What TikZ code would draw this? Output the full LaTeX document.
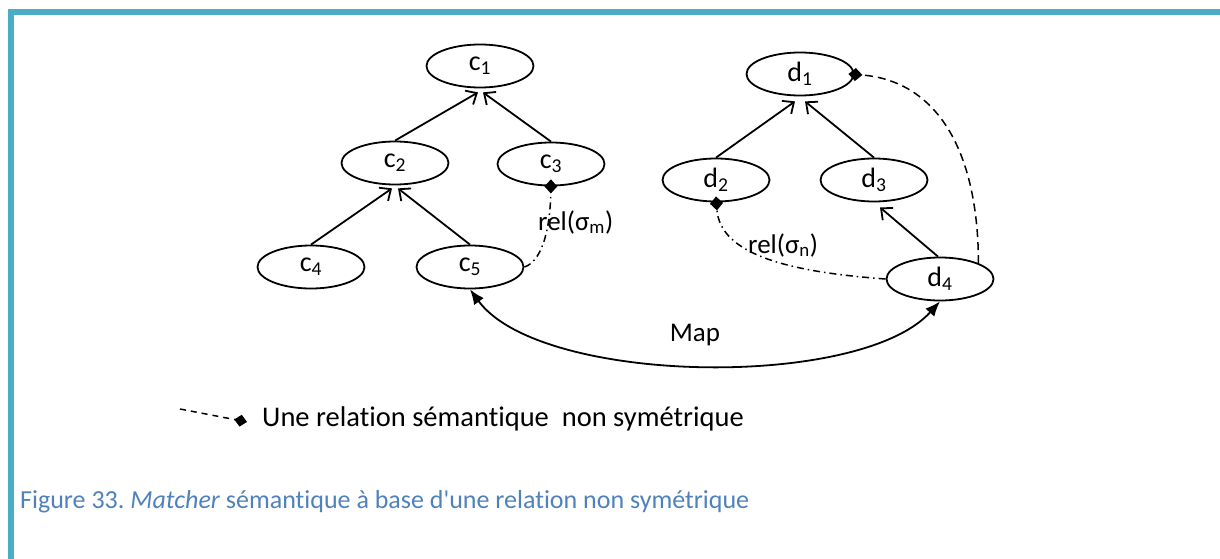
\documentclass[tikz,border=0pt]{standalone}
\usepackage{fontspec}
\setmainfont{Carlito}[Ligatures={NoCommon}]
\newfontfamily\capfont{Carlito}[Ligatures={NoCommon}]
\usetikzlibrary{shapes.geometric,arrows.meta}
\definecolor{barblue}{HTML}{4BACC6}
\definecolor{capblue}{HTML}{4F81BD}
\frenchspacing
\tikzset{
  ell/.style={draw, ellipse, line width=1.8pt, minimum width=107pt, minimum height=43pt, inner sep=0pt, font=\fontsize{28}{33}\selectfont},
  tree/.style={draw, line width=1.8pt, -{Straight Barb[length=9pt,width=16pt,line width=1.8pt]}},
  mapline/.style={draw, line width=1.8pt, {Latex[length=15pt,width=12pt]}-{Latex[length=15pt,width=12pt]}},
  dashrel/.style={draw, line width=1.5pt, dash pattern=on 8pt off 5pt, -{Diamond[length=14pt,width=13pt]}},
  dotrel/.style={draw, line width=1.5pt, dash pattern=on 7pt off 4pt on 1.5pt off 4pt, -{Diamond[length=14pt,width=13pt]}},
  lab/.style={inner sep=0pt, font=\fontsize{27}{32}\selectfont},
}
\begin{document}
\begin{tikzpicture}[x=1pt,y=-1pt]
\path[use as bounding box] (0,0) rectangle (1220,559);
\fill[barblue] (8,9) rectangle (1220,15);
\fill[barblue] (8,9) rectangle (14,559);

\node[ell] (c1) at (480,66) {c\textsubscript{1}};
\node[ell] (c2) at (395,163) {c\textsubscript{2}};
\node[ell] (c3) at (551,164) {c\textsubscript{3}};
\node[ell] (c4) at (311,267) {c\textsubscript{4}};
\node[ell] (c5) at (470,267) {c\textsubscript{5}};

\node[ell] (d1) at (800,74) {d\textsubscript{1}};
\node[ell] (d2) at (716,180) {d\textsubscript{2}};
\node[ell] (d3) at (874,180) {d\textsubscript{3}};
\node[ell] (d4) at (940,279) {d\textsubscript{4}};

\draw[tree] (c2.north) -- ([xshift=-2pt,yshift=-4pt]c1.south);
\draw[tree] (c3.north) -- ([xshift=3pt,yshift=-4pt]c1.south);
\draw[tree] (c4.north) -- ([xshift=-3pt,yshift=-3pt]c2.south);
\draw[tree] (c5.north) -- ([xshift=3pt,yshift=-3pt]c2.south);
\draw[tree] (d2.north) -- ([xshift=-5pt,yshift=-5pt]d1.south);
\draw[tree] (d3.north) -- ([xshift=5pt,yshift=-5pt]d1.south);
\draw[tree] ([xshift=-2pt]d4.north) -- ([xshift=6pt,yshift=-5pt]d3.south);

\node[lab, anchor=west] (relm) at (538,222) {rel(σ\textsubscript{m})};
\node[lab, anchor=west] (reln) at (748,245) {rel(σ\textsubscript{n})};

\draw[dotrel] (c5.east) .. controls (540,262) and (550,235) .. ([yshift=7pt]c3.south);
\draw[dotrel] (d4.west) .. controls (790,272) and (720,255) .. ([yshift=6pt]d2.south);
\draw[dashrel] (d4.north east) .. controls (978,140) and (930,80) .. ([xshift=-6pt]d1.east);

\draw[mapline] (c5.south) .. controls (540,385) and (860,390) .. (d4.south);
\node[lab] (map) at (695,335) {Map};

\coordinate (lg) at (180,409);
\node[inner sep=0pt, anchor=base west, font=\fontsize{28.5}{34}\selectfont] (leg) at (262,426.5) {Une relation sémantique\ \ non symétrique};
\draw[dashrel, dash pattern=on 6pt off 5pt, -{Diamond[length=13pt,width=12pt]}] (lg) -- ([xshift=-15pt,yshift=-3pt]leg.west);

\node[inner sep=0pt, anchor=base west, text=capblue, font=\capfont\fontsize{26}{30}\selectfont] (fig) at (20,508.5) {Figure 33. \textit{Matcher} sémantique à base d'une relation non symétrique};
\end{tikzpicture}
\end{document}
